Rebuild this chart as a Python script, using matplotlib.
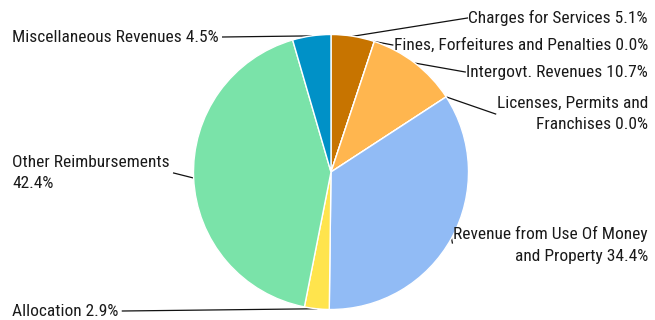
import matplotlib
matplotlib.use("Agg")
import matplotlib.pyplot as plt
import numpy as np
import os
from matplotlib import font_manager

labels = ["Charges for Services 5.1%",
          "Fines, Forfeitures and Penalties 0.0%",
          "Intergovt. Revenues 10.7%",
          "Licenses, Permits and\nFranchises 0.0%",
          "Revenue from Use Of Money\nand Property 34.4%",
          "Allocation 2.9%",
          "Other Reimbursements\n42.4%",
          "Miscellaneous Revenues 4.5%"]
values = [5.1, 0.0, 10.7, 0.0, 34.4, 2.9, 42.4, 4.5]
colors = ["#C77400", "#E89A2E", "#FFB64F", "#9FC4F2", "#91BBF5", "#FFE44D", "#7AE3A9", "#0091C7"]

# label placement (pixel coords, y from top), side
label_pos = [(648, 18, "right"), (648, 45, "right"), (648, 72, "right"), (648, 114, "right"),
             (648, 245, "right"), (12, 311, "left"), (12, 173, "left"), (12, 37, "left")]

W, H = 655, 320

# look for a narrow/condensed regular font
cands = []
for f in font_manager.fontManager.ttflist:
    base = os.path.basename(f.fname).lower()
    if ("narrow" in base or "condensed" in base) and not any(
            k in base for k in ["bold", "italic", "oblique", "light", "thin", "black", "medium", "semi", "extra"]):
        cands.append(f.fname)
prio = ["liberationsansnarrow", "robotocondensed", "opensans_condensed", "opensanscondensed",
        "notosanscondensed", "dejavusanscondensed"]
def rank(p):
    b = os.path.basename(p).lower().replace("-", "").replace("_", "")
    for i, k in enumerate(prio):
        if k.replace("_", "") in b:
            return i
    return 99
cands.sort(key=rank)
if cands:
    fp = font_manager.FontProperties(fname=cands[0])
    fsize = 12.5
else:
    fp = font_manager.FontProperties(family="DejaVu Sans")
    fsize = 10.5

fig = plt.figure(figsize=(W / 100, H / 100), dpi=100)
ax = fig.add_axes([0, 0, 1, 1])

cx, cy, R = 331, H - 172, 137.5
wedges, _ = ax.pie(values, colors=colors, startangle=90, counterclock=False,
                   radius=R, center=(cx, cy), frame=True,
                   wedgeprops=dict(edgecolor="white", linewidth=1))
ax.set_xlim(0, W)
ax.set_ylim(0, H)
ax.set_aspect("equal")
ax.axis("off")

texts = []
for lab, (x, y, side) in zip(labels, label_pos):
    t = ax.text(x, H - y, lab, ha=side, va="center", fontproperties=fp, fontsize=fsize,
                multialignment=side, color="#1a1a1a", linespacing=1.55)
    texts.append(t)

fig.canvas.draw()
r = fig.canvas.get_renderer()
for w, t, (x, y, side) in zip(wedges, texts, label_pos):
    ang = np.deg2rad((w.theta1 + w.theta2) / 2)
    px, py = cx + R * np.cos(ang), cy + R * np.sin(ang)
    bb = t.get_window_extent(r)
    if side == "right":
        ex = bb.x0 - 1
    else:
        ex = bb.x1 + 4
    ey = H - y
    if "Revenue from" in t.get_text():
        ey = H - 243
    ax.plot([px, ex], [py, ey], color="#111111", lw=0.9, zorder=0)

fig.savefig("out.png", dpi=100)
